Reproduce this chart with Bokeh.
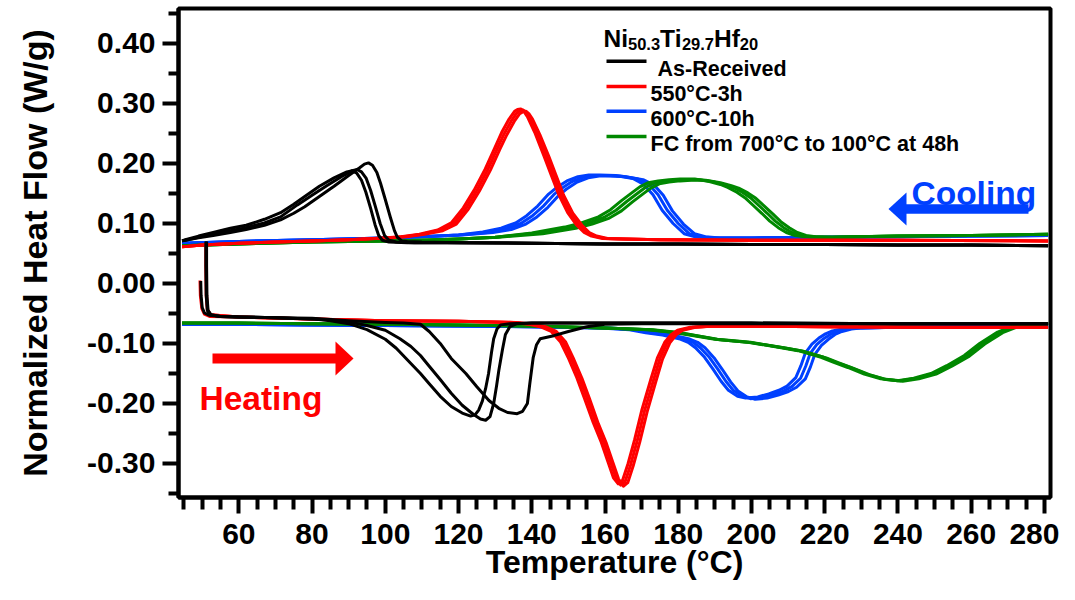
from bokeh.plotting import figure
from bokeh.models import Range1d, FixedTicker, NumeralTickFormatter, Label
from bokeh.embed import file_html
from bokeh.resources import INLINE

# ---------------- data ----------------
# As-Received (black) cooling, three cycles
bk_cool1_T = [281, 260, 240, 220, 200, 180, 160, 140, 120, 110, 106, 104.5, 103.3, 102.5, 101.4, 100.0, 98.7, 97.7, 96.5, 95.4, 94.3, 93.0, 90.0, 86.0, 82.0, 78.0, 75.0, 71.4, 67.0, 62.0, 57.7, 53.0, 49.0, 45.4, 44.5]
bk_cool1_H = [0.063, 0.064, 0.064, 0.065, 0.065, 0.066, 0.066, 0.067, 0.068, 0.069, 0.070, 0.071, 0.077, 0.088, 0.110, 0.140, 0.167, 0.185, 0.197, 0.201, 0.199, 0.193, 0.180, 0.162, 0.145, 0.128, 0.117, 0.106, 0.097, 0.090, 0.085, 0.080, 0.076, 0.072, 0.071]
bk_cool2_T = [281, 260, 240, 220, 200, 180, 160, 140, 120, 108, 103, 101.0, 99.8, 98.6, 97.3, 96.0, 94.8, 93.5, 92.3, 91.0, 88.0, 84.0, 80.0, 76.0, 71.4, 67.0, 62.0, 57.7, 53.0, 49.0, 45.4, 44.5]
bk_cool2_H = [0.063, 0.064, 0.064, 0.065, 0.065, 0.066, 0.066, 0.067, 0.068, 0.068, 0.069, 0.072, 0.080, 0.100, 0.128, 0.155, 0.175, 0.186, 0.190, 0.188, 0.178, 0.163, 0.147, 0.131, 0.111, 0.101, 0.093, 0.088, 0.082, 0.077, 0.072, 0.071]
bk_cool3_T = [281, 260, 240, 220, 200, 180, 160, 140, 120, 106, 101, 99.2, 98.2, 97.2, 96.0, 94.7, 93.5, 92.2, 91.0, 89.5, 86.0, 82.0, 78.0, 75.0, 71.4, 67.0, 62.0, 57.7, 53.0, 49.0, 45.4, 44.5]
bk_cool3_H = [0.063, 0.064, 0.064, 0.065, 0.065, 0.066, 0.066, 0.067, 0.068, 0.068, 0.069, 0.072, 0.080, 0.098, 0.125, 0.152, 0.172, 0.184, 0.188, 0.186, 0.176, 0.162, 0.145, 0.132, 0.118, 0.107, 0.097, 0.092, 0.085, 0.079, 0.073, 0.071]
# As-Received (black) heating, three cycles
bk_heat1_T = [49.6, 49.7, 50.0, 50.6, 52.0, 55, 60, 70, 80, 85, 90, 95, 100, 103, 106, 109.6, 112, 115, 118, 121, 123.3, 124.5, 125.5, 126.5, 127.4, 128.2, 129.0, 129.6, 130.5, 131.5, 134, 140, 160, 200, 240, 281]
bk_heat1_H = [0.004, -0.020, -0.040, -0.049, -0.053, -0.055, -0.056, -0.057, -0.059, -0.062, -0.067, -0.077, -0.093, -0.108, -0.127, -0.150, -0.167, -0.188, -0.205, -0.216, -0.221, -0.219, -0.211, -0.196, -0.175, -0.150, -0.115, -0.092, -0.076, -0.069, -0.067, -0.066, -0.066, -0.066, -0.067, -0.067]
bk_heat2_T = [51.2, 51.2, 51.3, 51.6, 52.4, 55, 60, 70, 80, 85, 90, 95, 100, 104, 107, 109.6, 112, 115, 118, 121, 124, 126, 127.4, 128.6, 129.6, 130.4, 131.0, 132.0, 132.8, 134, 136, 140, 160, 200, 240, 281]
bk_heat2_H = [0.070, 0.030, -0.020, -0.045, -0.052, -0.055, -0.056, -0.057, -0.059, -0.061, -0.064, -0.070, -0.078, -0.092, -0.105, -0.120, -0.138, -0.160, -0.183, -0.203, -0.218, -0.226, -0.228, -0.222, -0.200, -0.170, -0.145, -0.110, -0.085, -0.072, -0.067, -0.066, -0.066, -0.066, -0.067, -0.067]
bk_heat3_T = [51.0, 51.0, 51.1, 51.4, 52.2, 55, 60, 70, 80, 90, 100, 105, 109.6, 112, 115, 118, 122, 125, 128.3, 131, 133.4, 136, 137.5, 138.8, 139.5, 140.4, 141.3, 142.3, 146, 150, 155, 160, 170, 200, 240, 281]
bk_heat3_H = [0.070, 0.030, -0.020, -0.045, -0.052, -0.055, -0.056, -0.057, -0.058, -0.062, -0.065, -0.066, -0.068, -0.080, -0.100, -0.125, -0.150, -0.172, -0.195, -0.208, -0.215, -0.217, -0.213, -0.200, -0.165, -0.123, -0.102, -0.092, -0.087, -0.080, -0.072, -0.068, -0.067, -0.067, -0.067, -0.067]

# 550°C-3h (red)
rd_cool1_T = [281, 240, 200, 175, 164.3, 159.3, 156.3, 154.3, 152.3, 149.8, 147.3, 145.3, 143.3, 140.8, 138.8, 137.8, 137.0, 136.1, 135.3, 133.8, 131.8, 129.9, 127.3, 124.3, 121.3, 118.0, 114.3, 109.3, 104.3, 99.3, 90, 80, 70, 60, 50, 44.5]
rd_cool1_H = [0.071, 0.072, 0.072, 0.073, 0.074, 0.075, 0.079, 0.085, 0.097, 0.118, 0.149, 0.181, 0.213, 0.252, 0.278, 0.287, 0.291, 0.290, 0.287, 0.274, 0.252, 0.226, 0.191, 0.156, 0.126, 0.101, 0.089, 0.082, 0.078, 0.076, 0.073, 0.071, 0.069, 0.067, 0.064, 0.061]
rd_cool2_T = [281, 240, 200, 175, 165, 160, 157, 155, 153, 150.5, 148, 146, 144, 141.5, 139.5, 138.5, 137.7, 136.8, 136, 134.5, 132.5, 130.6, 128, 125, 122, 118.7, 115, 110, 105, 100, 90, 80, 70, 60, 50, 44.5]
rd_cool2_H = [0.071, 0.072, 0.072, 0.073, 0.074, 0.075, 0.079, 0.085, 0.097, 0.118, 0.148, 0.180, 0.212, 0.250, 0.276, 0.285, 0.289, 0.288, 0.285, 0.272, 0.250, 0.225, 0.190, 0.155, 0.125, 0.100, 0.089, 0.082, 0.078, 0.076, 0.073, 0.071, 0.069, 0.067, 0.064, 0.061]
rd_cool3_T = [281, 240, 200, 175, 165.7, 160.7, 157.7, 155.7, 153.7, 151.2, 148.7, 146.7, 144.7, 142.2, 140.2, 139.2, 138.4, 137.5, 136.7, 135.2, 133.2, 131.3, 128.7, 125.7, 122.7, 119.4, 115.7, 110.7, 105.7, 100.7, 90, 80, 70, 60, 50, 44.5]
rd_cool3_H = [0.071, 0.072, 0.072, 0.073, 0.074, 0.075, 0.079, 0.085, 0.097, 0.117, 0.147, 0.179, 0.211, 0.248, 0.274, 0.283, 0.287, 0.286, 0.283, 0.270, 0.248, 0.224, 0.189, 0.154, 0.124, 0.099, 0.088, 0.082, 0.078, 0.076, 0.073, 0.071, 0.069, 0.067, 0.064, 0.061]
rd_heat1_T = [49.4, 49.5, 49.9, 50.6, 52.0, 60, 80, 100, 120, 134.3, 139.3, 142.3, 145.3, 147.8, 149.9, 152.3, 154.3, 156.8, 159.0, 160.8, 162.3, 163.6, 164.8, 166.3, 168.1, 170.1, 172.5, 174.3, 176.3, 178.1, 179.8, 183.3, 190, 220, 250, 281]
rd_heat1_H = [0.005, -0.020, -0.042, -0.051, -0.055, -0.056, -0.059, -0.062, -0.063, -0.065, -0.068, -0.072, -0.080, -0.097, -0.123, -0.157, -0.190, -0.232, -0.265, -0.297, -0.324, -0.334, -0.328, -0.300, -0.260, -0.210, -0.160, -0.124, -0.098, -0.085, -0.078, -0.073, -0.071, -0.072, -0.073, -0.073]
rd_heat2_T = [51.1, 51.1, 51.2, 51.5, 52.3, 60, 80, 100, 120, 135, 140, 143, 146, 148.5, 150.6, 153, 155, 157.5, 159.7, 161.5, 163, 164.3, 165.5, 167, 168.8, 170.8, 173.2, 175, 177, 178.8, 180.5, 184, 190, 220, 250, 281]
rd_heat2_H = [0.068, 0.030, -0.020, -0.044, -0.052, -0.056, -0.059, -0.062, -0.063, -0.065, -0.068, -0.072, -0.080, -0.097, -0.123, -0.157, -0.190, -0.232, -0.265, -0.297, -0.324, -0.336, -0.330, -0.302, -0.262, -0.212, -0.162, -0.125, -0.098, -0.085, -0.078, -0.073, -0.071, -0.072, -0.073, -0.073]
rd_heat3_T = [51.0, 51.0, 51.1, 51.4, 52.2, 60, 80, 100, 120, 135.7, 140.7, 143.7, 146.7, 149.2, 151.3, 153.7, 155.7, 158.2, 160.4, 162.2, 163.7, 165.0, 166.2, 167.7, 169.5, 171.5, 173.9, 175.7, 177.7, 179.5, 181.2, 184.7, 190, 220, 250, 281]
rd_heat3_H = [0.068, 0.030, -0.020, -0.044, -0.052, -0.056, -0.059, -0.062, -0.063, -0.065, -0.068, -0.072, -0.080, -0.097, -0.124, -0.158, -0.191, -0.234, -0.267, -0.299, -0.326, -0.338, -0.332, -0.304, -0.264, -0.214, -0.163, -0.126, -0.099, -0.085, -0.078, -0.073, -0.071, -0.072, -0.073, -0.073]

# 600°C-10h (blue)
bl_cool1_T = [281, 260, 240, 220, 200, 188.6, 184.6, 181.6, 178.6, 175.6, 173.1, 170.6, 167.6, 162.9, 158.6, 155.6, 152.6, 149.6, 146.6, 144.6, 141.6, 138.6, 135.6, 131.6, 126.6, 120, 110, 100, 80, 60, 44.5]
bl_cool1_H = [0.080, 0.079, 0.078, 0.077, 0.076, 0.076, 0.078, 0.083, 0.100, 0.122, 0.148, 0.165, 0.175, 0.180, 0.181, 0.181, 0.178, 0.171, 0.159, 0.149, 0.129, 0.113, 0.101, 0.092, 0.086, 0.081, 0.078, 0.076, 0.073, 0.070, 0.067]
bl_cool2_T = [281, 260, 240, 220, 200, 190, 186, 183, 180, 177, 174.5, 172, 169, 164.3, 160, 157, 154, 151, 148, 146, 143, 140, 137, 133, 128, 120, 110, 100, 80, 60, 44.5]
bl_cool2_H = [0.080, 0.079, 0.078, 0.077, 0.076, 0.076, 0.078, 0.083, 0.100, 0.122, 0.148, 0.165, 0.174, 0.179, 0.180, 0.180, 0.177, 0.170, 0.158, 0.148, 0.128, 0.112, 0.100, 0.091, 0.085, 0.081, 0.078, 0.076, 0.073, 0.070, 0.067]
bl_cool3_T = [281, 260, 240, 220, 201, 191.4, 187.4, 184.4, 181.4, 178.4, 175.9, 173.4, 170.4, 165.7, 161.4, 158.4, 155.4, 152.4, 149.4, 147.4, 144.4, 141.4, 138.4, 134.4, 129.4, 121, 110, 100, 80, 60, 44.5]
bl_cool3_H = [0.080, 0.079, 0.078, 0.077, 0.076, 0.076, 0.078, 0.083, 0.099, 0.121, 0.147, 0.164, 0.173, 0.178, 0.179, 0.179, 0.176, 0.169, 0.157, 0.147, 0.127, 0.111, 0.099, 0.090, 0.085, 0.081, 0.078, 0.076, 0.073, 0.070, 0.067]
bl_heat1_T = [44.5, 60, 80, 100, 120, 140, 158.7, 166.7, 171.1, 175.7, 180.2, 182.7, 184.7, 187.2, 189.4, 191.7, 193.7, 196.2, 198.4, 201.7, 204.7, 207.5, 209.7, 212.1, 213.5, 214.7, 216.5, 218.4, 220.2, 222.1, 224.7, 227.7, 240, 260, 281]
bl_heat1_H = [-0.068, -0.068, -0.069, -0.070, -0.071, -0.072, -0.074, -0.077, -0.082, -0.086, -0.092, -0.098, -0.107, -0.123, -0.142, -0.163, -0.178, -0.188, -0.191, -0.189, -0.184, -0.178, -0.171, -0.157, -0.137, -0.116, -0.101, -0.091, -0.084, -0.079, -0.076, -0.074, -0.073, -0.072, -0.071]
bl_heat2_T = [44.5, 60, 80, 100, 120, 140, 160, 168, 172.4, 177, 181.5, 184, 186, 188.5, 190.7, 193, 195, 197.5, 199.7, 203, 206, 208.8, 211, 213.4, 214.8, 216, 217.8, 219.7, 221.5, 223.4, 226, 229, 240, 260, 281]
bl_heat2_H = [-0.068, -0.068, -0.069, -0.070, -0.071, -0.072, -0.074, -0.077, -0.082, -0.086, -0.092, -0.098, -0.107, -0.123, -0.142, -0.163, -0.178, -0.188, -0.192, -0.190, -0.185, -0.179, -0.172, -0.158, -0.138, -0.117, -0.102, -0.092, -0.085, -0.080, -0.076, -0.074, -0.073, -0.072, -0.071]
bl_heat3_T = [44.5, 60, 80, 100, 120, 140, 161.3, 169.3, 173.7, 178.3, 182.8, 185.3, 187.3, 189.8, 192.0, 194.3, 196.3, 198.8, 201.0, 204.3, 207.3, 210.1, 212.3, 214.7, 216.1, 217.3, 219.1, 221.0, 222.8, 224.7, 227.3, 230.3, 240, 260, 281]
bl_heat3_H = [-0.068, -0.068, -0.069, -0.070, -0.071, -0.072, -0.074, -0.077, -0.082, -0.086, -0.092, -0.098, -0.107, -0.124, -0.143, -0.164, -0.179, -0.189, -0.193, -0.191, -0.186, -0.180, -0.173, -0.159, -0.139, -0.118, -0.103, -0.093, -0.085, -0.080, -0.076, -0.074, -0.073, -0.072, -0.071]

# FC from 700°C to 100°C at 48h (green)
gr_cool1_T = [281, 260, 240, 222, 214.5, 211.9, 209.5, 207.3, 205.0, 202.8, 200.5, 198.2, 196.0, 193.5, 191.5, 188.5, 184.5, 180.5, 177.5, 174.5, 171.8, 169.5, 167.3, 164.5, 161.5, 158.2, 153.5, 149.0, 140, 130, 120, 110, 100, 80, 60, 44.5]
gr_cool1_H = [0.082, 0.080, 0.079, 0.077, 0.078, 0.080, 0.085, 0.093, 0.104, 0.117, 0.130, 0.143, 0.152, 0.160, 0.165, 0.170, 0.174, 0.174, 0.173, 0.171, 0.168, 0.161, 0.151, 0.138, 0.123, 0.111, 0.101, 0.094, 0.084, 0.077, 0.074, 0.072, 0.071, 0.069, 0.066, 0.063]
gr_cool2_T = [281, 260, 240, 220, 216, 213.4, 211, 208.8, 206.5, 204.3, 202, 199.7, 197.5, 195, 193, 190, 186, 182, 179, 176, 173.3, 171, 168.8, 166, 163, 159.7, 155, 150.5, 141.5, 130, 120, 110, 100, 80, 60, 44.5]
gr_cool2_H = [0.082, 0.080, 0.079, 0.077, 0.078, 0.080, 0.085, 0.093, 0.104, 0.117, 0.130, 0.143, 0.152, 0.160, 0.164, 0.169, 0.173, 0.173, 0.172, 0.170, 0.167, 0.160, 0.150, 0.137, 0.122, 0.110, 0.100, 0.093, 0.084, 0.077, 0.074, 0.072, 0.071, 0.069, 0.066, 0.063]
gr_cool3_T = [281, 260, 240, 222, 217.5, 214.9, 212.5, 210.3, 208.0, 205.8, 203.5, 201.2, 199.0, 196.5, 194.5, 191.5, 187.5, 183.5, 180.5, 177.5, 174.8, 172.5, 170.3, 167.5, 164.5, 161.2, 156.5, 152.0, 143, 131, 120, 110, 100, 80, 60, 44.5]
gr_cool3_H = [0.082, 0.080, 0.079, 0.077, 0.078, 0.080, 0.085, 0.093, 0.103, 0.116, 0.129, 0.142, 0.151, 0.159, 0.163, 0.168, 0.172, 0.172, 0.171, 0.169, 0.166, 0.159, 0.149, 0.136, 0.121, 0.109, 0.099, 0.092, 0.083, 0.077, 0.074, 0.072, 0.071, 0.069, 0.066, 0.063]
gr_heat1_T = [44.5, 60, 80, 100, 120, 140, 160, 171.7, 179.3, 190.0, 199.0, 208.1, 212.7, 219.0, 222.3, 226.3, 230.8, 235.3, 239.9, 244.3, 249.0, 253.3, 258.1, 262.3, 267.2, 271.8, 275.5, 281]
gr_heat1_H = [-0.066, -0.066, -0.067, -0.068, -0.069, -0.071, -0.074, -0.077, -0.082, -0.093, -0.098, -0.107, -0.112, -0.123, -0.131, -0.140, -0.151, -0.159, -0.162, -0.158, -0.150, -0.137, -0.120, -0.100, -0.081, -0.070, -0.068, -0.067]
gr_heat2_T = [44.5, 60, 80, 100, 120, 140, 160, 172.4, 180, 190.7, 199.7, 208.8, 213.4, 219.7, 223, 227, 231.5, 236, 240.6, 245, 249.7, 254, 258.8, 263, 267.9, 272.5, 276, 281]
gr_heat2_H = [-0.066, -0.066, -0.067, -0.068, -0.069, -0.071, -0.074, -0.077, -0.082, -0.093, -0.098, -0.107, -0.112, -0.123, -0.131, -0.140, -0.151, -0.159, -0.162, -0.158, -0.150, -0.137, -0.120, -0.100, -0.081, -0.070, -0.068, -0.067]
gr_heat3_T = [44.5, 60, 80, 100, 120, 140, 160, 173.1, 180.7, 191.4, 200.4, 209.5, 214.1, 220.4, 223.7, 227.7, 232.2, 236.7, 241.3, 245.7, 250.4, 254.7, 259.5, 263.7, 268.6, 273.2, 276.5, 281]
gr_heat3_H = [-0.066, -0.066, -0.067, -0.068, -0.069, -0.071, -0.074, -0.077, -0.082, -0.094, -0.099, -0.108, -0.113, -0.124, -0.132, -0.141, -0.152, -0.160, -0.163, -0.159, -0.151, -0.138, -0.121, -0.101, -0.082, -0.071, -0.068, -0.067]

series_names = ["As-Received", "550°C-3h", "600°C-10h", "FC from 700°C to 100°C at 48h"]
series_colors = ["#000000", "#FF0000", "#0040FF", "#008800"]
x_major = [60, 80, 100, 120, 140, 160, 180, 200, 220, 240, 260, 280]
x_minor = [45, 50, 55, 65, 70, 75, 85, 90, 95, 105, 110, 115, 125, 130, 135, 145, 150, 155,
           165, 170, 175, 185, 190, 195, 205, 210, 215, 225, 230, 235, 245, 250, 255, 265,
           270, 275]
y_major = [-0.30, -0.20, -0.10, 0.00, 0.10, 0.20, 0.30, 0.40]
y_minor = [-0.35, -0.25, -0.15, -0.05, 0.05, 0.15, 0.25, 0.35, 0.45]

# ---------------- figure ----------------
X0, X1 = 43.53, 281.65
Y0, Y1 = -0.3567, 0.4583
W, H = 1059, 584
ML, MR, MT, MB = 178, 9, 8, 87

p = figure(width=W, height=H, x_range=Range1d(X0, X1), y_range=Range1d(Y0, Y1),
           output_backend="svg", toolbar_location=None,
           min_border_left=ML, min_border_right=MR, min_border_top=MT, min_border_bottom=MB)
p.grid.visible = False
p.outline_line_color = "black"
p.outline_line_width = 4
p.background_fill_color = "white"
p.border_fill_color = "white"

# canvas-pixel -> data helpers for annotation placement
FW = W - ML - MR
FH = H - MT - MB
def px_x(px):
    return X0 + (px - ML) * (X1 - X0) / FW
def px_y(py):
    return Y1 - (py - MT) * (Y1 - Y0) / FH

groups = [
    ("#0040FF", [(bl_cool1_T, bl_cool1_H), (bl_cool2_T, bl_cool2_H), (bl_cool3_T, bl_cool3_H),
                 (bl_heat1_T, bl_heat1_H), (bl_heat2_T, bl_heat2_H), (bl_heat3_T, bl_heat3_H)]),
    ("#008800", [(gr_cool1_T, gr_cool1_H), (gr_cool2_T, gr_cool2_H), (gr_cool3_T, gr_cool3_H),
                 (gr_heat1_T, gr_heat1_H), (gr_heat2_T, gr_heat2_H), (gr_heat3_T, gr_heat3_H)]),
    ("#FF0000", [(rd_cool1_T, rd_cool1_H), (rd_cool2_T, rd_cool2_H), (rd_cool3_T, rd_cool3_H),
                 (rd_heat1_T, rd_heat1_H), (rd_heat2_T, rd_heat2_H), (rd_heat3_T, rd_heat3_H)]),
    ("#000000", [(bk_cool1_T, bk_cool1_H), (bk_cool2_T, bk_cool2_H), (bk_cool3_T, bk_cool3_H),
                 (bk_heat1_T, bk_heat1_H), (bk_heat2_T, bk_heat2_H), (bk_heat3_T, bk_heat3_H)]),
]
for col, curves in groups:
    for t, h in curves:
        p.line(t, h, line_color=col, line_width=3, line_join="round")

# ---------------- axes ----------------
FONT = "Liberation Sans"
for ax in (p.xaxis[0], p.yaxis[0]):
    ax.axis_line_width = 4
    ax.major_tick_line_width = 4
    ax.minor_tick_line_width = 4
    ax.major_tick_in = 0
    ax.minor_tick_in = 0
    ax.major_tick_out = 16
    ax.major_label_text_font = FONT
    ax.axis_label_text_font = FONT
    ax.major_label_text_font_style = "bold"
    ax.axis_label_text_font_style = "bold"
    ax.major_label_text_color = "black"
    ax.axis_label_text_color = "black"

p.xaxis.ticker = FixedTicker(ticks=x_major, minor_ticks=x_minor)
p.xaxis.minor_tick_out = 12
p.xaxis.major_label_text_font_size = "30px"
p.xaxis.major_label_standoff = 10
p.xaxis.axis_label = "Temperature (°C)"
p.xaxis.axis_label_text_font_size = "32px"
p.xaxis.axis_label_standoff = -3

p.yaxis.ticker = FixedTicker(ticks=y_major, minor_ticks=y_minor)
p.yaxis.minor_tick_out = 10
p.yaxis.formatter = NumeralTickFormatter(format="0.00")
p.yaxis.major_label_text_font_size = "30px"
p.yaxis.major_label_standoff = 7
p.yaxis.axis_label = "Normalized Heat Flow (W/g)"
p.yaxis.axis_label_text_font_size = "34px"
p.yaxis.axis_label_standoff = 30

# ---------------- text helpers ----------------
def lbl(x, y, text, size, color="black", align="left"):
    p.add_layout(Label(x=x, y=y, text=text, text_font=FONT, text_font_style="bold",
                       text_font_size=size, text_color=color, text_baseline="alphabetic",
                       text_align=align))

# legend title Ni50.3Ti29.7Hf20 with subscripts
adv = {"N": .722, "i": .278, "T": .611, "H": .722, "f": .333, ".": .278}
def width(s, size):
    return sum(adv.get(c, .556) for c in s) * size
parts = [("Ni", 24.5, 0), ("50.3", 16.5, 1), ("Ti", 24.5, 0), ("29.7", 16.5, 1), ("Hf", 24.5, 0), ("20", 16.5, 1)]
cx = 603
for s, fs, sub in parts:
    lbl(px_x(cx), px_y(43.8 if sub else 38.3), s, f"{fs}px")
    cx += width(s, fs)

leg_rows = [60.7, 86.0, 110.7, 136.0]
leg_text_x = [657, 650, 650, 650]
for i, (name, col) in enumerate(zip(series_names, series_colors)):
    yy = leg_rows[i]
    p.segment(x0=[px_x(606)], y0=[px_y(yy)], x1=[px_x(646)], y1=[px_y(yy)],
              line_color=col, line_width=3.5)
    lbl(px_x(leg_text_x[i]), px_y(yy + 7.3), name, "21.5px")

# ---------------- Heating / Cooling arrows ----------------
p.segment(x0=[px_x(212)], y0=[px_y(358)], x1=[px_x(336)], y1=[px_y(358)],
          line_color="#FF0000", line_width=10)
p.patch([px_x(335), px_x(353), px_x(335)], [px_y(341), px_y(358), px_y(375)],
        color="#FF0000", line_width=0)
lbl(px_x(199), px_y(398), "Heating", "33.5px", "#FF0000")

p.segment(x0=[px_x(904)], y0=[px_y(208.5)], x1=[px_x(1028)], y1=[px_y(208.5)],
          line_color="#0040FF", line_width=9.5)
p.patch([px_x(906), px_x(888), px_x(906)], [px_y(192), px_y(208.5), px_y(225)],
        color="#0040FF", line_width=0)
lbl(px_x(911), px_y(193), "Cooling", "33.5px", "#0040FF")

open("out.html", "w").write(file_html(p, INLINE))
